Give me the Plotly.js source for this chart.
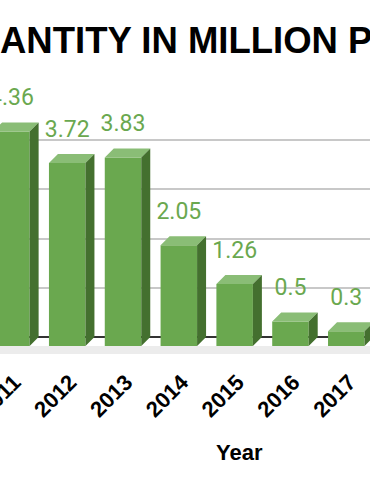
<!DOCTYPE html>
<html>
<head>
<meta charset="utf-8">
<script src="https://cdn.plot.ly/plotly-3.0.1.min.js"></script>
<style>
  html, body { margin: 0; padding: 0; background: #fff; overflow: hidden; }
  #chart { width: 370px; height: 490px; }
</style>
</head>
<body>
<div id="chart"></div>
<script>
// ---- data ----
const years = [2011, 2012, 2013, 2014, 2015, 2016, 2017];
const tickLabels = ['2011', '2012', '2013', '2014', '2015', '2016', '2017'];
const quantities = [4.36, 3.72, 3.83, 2.05, 1.26, 0.5, 0.3];
const valueLabels = ['4.36', '3.72', '3.83', '2.05', '1.26', '0.5', '0.3'];
const titleText = 'ANTITY IN MILLION P';
const xTitleText = 'Year';

// ---- 3D styling (in axis units) ----
const BAR_W = 0.654;   // front face width
const DX = 0.161;      // depth, x direction
const DY = 0.183;      // depth, y direction
const LABEL_OFF = 0.47;

const FRONT = '#6aa84f', TOP = '#8abd76', SIDE = '#44702f', LABEL = '#6aa84f';

const topX = [], topY = [], sideX = [], sideY = [];
years.forEach((x, i) => {
  const v = quantities[i];
  const l = x - BAR_W / 2, r = x + BAR_W / 2;
  topX.push(l, r, r + DX, l + DX, l, null);
  topY.push(v - DY, v - DY, v, v, v - DY, null);
  sideX.push(r, r, r + DX, r + DX, r, null);
  sideY.push(-DY, v - DY, v, 0, -DY, null);
});

const traces = [
  {
    type: 'bar', x: years, y: quantities, base: -DY, width: BAR_W,
    marker: { color: FRONT, line: { width: 0 } },
    hoverinfo: 'x+text', hovertext: valueLabels, showlegend: false
  },
  {
    type: 'scatter', mode: 'lines', x: topX, y: topY, fill: 'toself',
    fillcolor: TOP, line: { width: 0, color: TOP }, hoverinfo: 'skip', showlegend: false
  },
  {
    type: 'scatter', mode: 'lines', x: sideX, y: sideY, fill: 'toself',
    fillcolor: SIDE, line: { width: 0, color: SIDE }, hoverinfo: 'skip', showlegend: false
  },
  {
    type: 'scatter', mode: 'text', x: years,
    y: quantities.map(v => v + LABEL_OFF),
    text: valueLabels, textposition: 'middle center',
    textfont: { family: 'Roboto', size: 23, color: LABEL },
    cliponaxis: false, hoverinfo: 'skip', showlegend: false
  }
];

const layout = {
  width: 370, height: 490,
  margin: { l: 0, r: 0, t: 91, b: 136, pad: 0 },
  paper_bgcolor: '#ffffff', plot_bgcolor: '#ffffff',
  showlegend: false,
  title: {
    text: titleText, xref: 'container', x: 0, xanchor: 'left',
    yref: 'container', y: 0.918, yanchor: 'middle',
    font: { family: 'Arial', size: 36.5, weight: 'bold', color: '#000' }
  },
  xaxis: {
    range: [2010.796, 2017.425], tickvals: years, ticktext: tickLabels,
    tickangle: -45, showgrid: false, zeroline: false, showline: false, ticks: '',
    ticklabelstandoff: 10, ticklabelshift: 3, ticklabeloverflow: 'allow',
    tickfont: { family: 'Arial', size: 22, weight: 'bold', color: '#000' },
    fixedrange: true
  },
  yaxis: {
    range: [-0.3455, 5], dtick: 1, tick0: 0, showgrid: true,
    gridcolor: '#c8c8c8', gridwidth: 2, zeroline: true,
    zerolinecolor: '#333333', zerolinewidth: 1.2,
    showticklabels: false, showline: false, ticks: '', fixedrange: true
  },
  shapes: [{
    type: 'rect', xref: 'paper', x0: 0, x1: 1, yref: 'y', y0: -DY, y1: -0.3455,
    fillcolor: '#ececec', line: { width: 0 }, layer: 'below'
  }],
  annotations: [{
    text: xTitleText, xref: 'paper', x: 0.646, yref: 'paper', y: -0.376,
    xanchor: 'center', yanchor: 'middle', showarrow: false,
    font: { family: 'Arial', size: 22, weight: 'bold', color: '#000' }
  }]
};

Plotly.newPlot('chart', traces, layout, { displayModeBar: false, staticPlot: true });
</script>
</body>
</html>
